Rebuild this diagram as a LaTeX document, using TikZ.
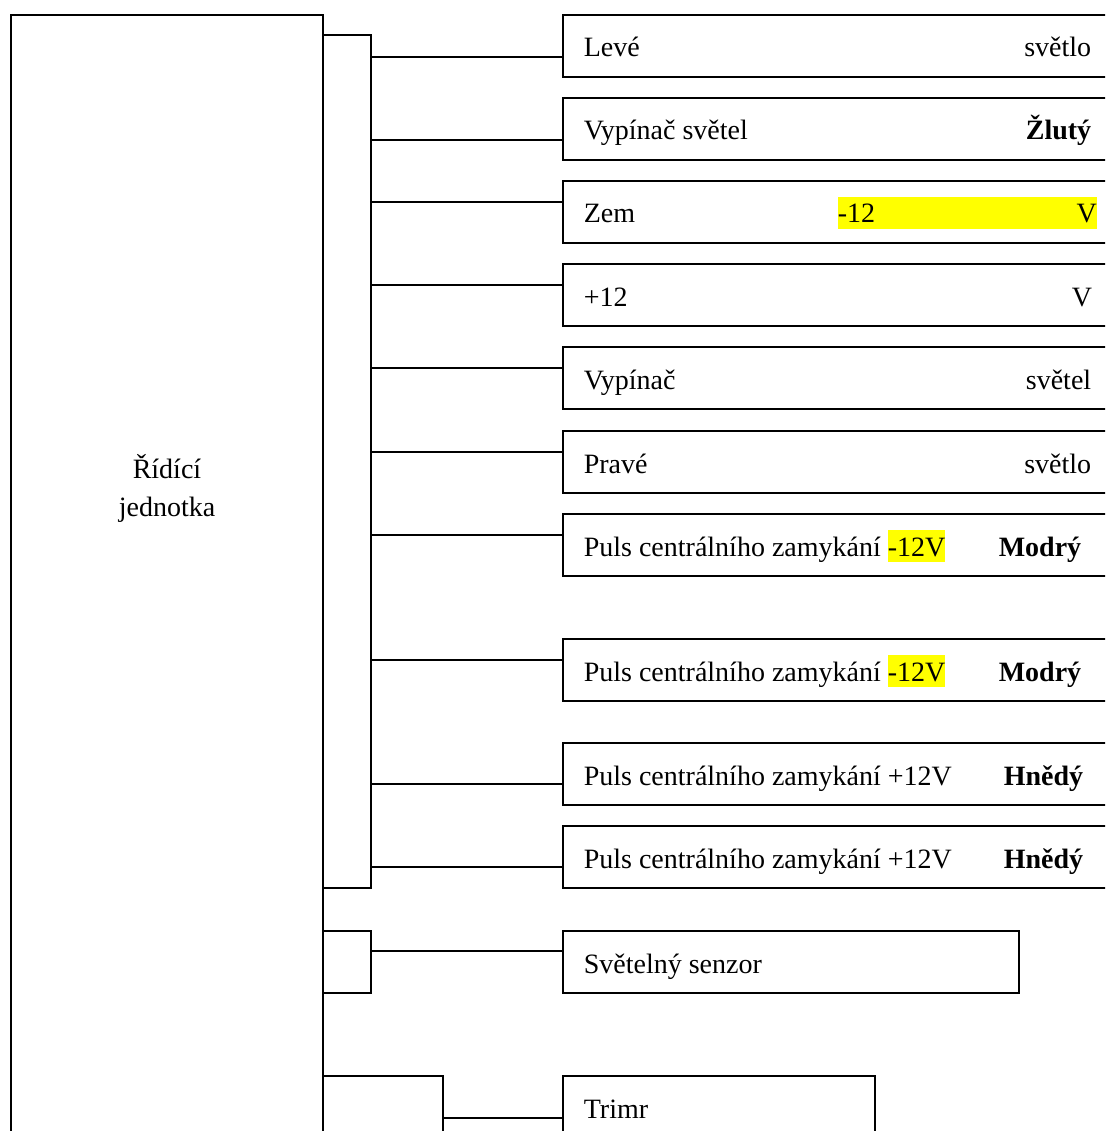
\documentclass[tikz,border=0pt]{standalone}
\usepackage{fontspec}
\setmainfont{Liberation Serif}
\definecolor{zluta}{RGB}{255,255,0}
\newcommand{\zvyraz}[1]{{\setlength{\fboxsep}{0pt}\colorbox{zluta}{\rule[-6pt]{0pt}{32pt}#1}}}

\begin{document}
\begin{tikzpicture}[x=1pt,y=-1pt,line width=1.6pt,font=\fontsize{28pt}{38pt}\selectfont,
   box/.style={draw,inner sep=0,outer sep=0,anchor=north west},
   radek/.style={box,minimum width=580pt,minimum height=62pt},
   vlevo/.style={anchor=base west,inner sep=0},
   vpravo/.style={anchor=base east,inner sep=0}]
   \useasboundingbox (0,0) rectangle (1105,1131);
   \clip (0,0) rectangle (1105,1131);
   % ridici jednotka
   \node[box,minimum width=312pt,minimum height=1150pt] (jednotka) at (11,15) {};
   \node[align=center] (nazev) at (167,488) {Řídící\\jednotka};
   \node[box,minimum width=48pt,minimum height=853pt] (kon1) at (323,35) {};
   \node[box,minimum width=48pt,minimum height=62pt] (kon2) at (323,931) {};
   \node[box,minimum width=120pt,minimum height=100pt] (kon3) at (323,1076) {};
   % vystupy
   \node[radek] (leve) at (563,15) {};
   \node[radek] (vypsv) at (563,98) {};
   \node[radek] (zem) at (563,181) {};
   \node[radek] (plus) at (563,264) {};
   \node[radek] (vyp) at (563,347) {};
   \node[radek] (prave) at (563,431) {};
   \node[radek] (puls1) at (563,514) {};
   \node[radek] (puls2) at (563,639) {};
   \node[radek] (puls3) at (563,743) {};
   \node[radek] (puls4) at (563,826) {};
   \node[box,minimum width=456pt,minimum height=62pt] (senzor) at (563,931) {};
   \node[box,minimum width=312pt,minimum height=100pt] (trimr) at (563,1076) {};
   % texty
   \node[vlevo] (t1) at (583,57) {Levé};
   \node[vpravo] (t1b) at (1092,57) {světlo};
   \node[vlevo] (t2) at (583,140) {Vypínač světel};
   \node[vpravo] (t2b) at (1092,140) {\textbf{Žlutý}};
   \node[vlevo] (t3) at (583,223) {Zem};
   \node[vlevo] (t3b) at (837,223) {\zvyraz{\makebox[259pt]{-12\hfill V}}};
   \node[vlevo] (t4) at (583,306) {+12};
   \node[vpravo] (t4b) at (1093,306) {V};
   \node[vlevo] (t5) at (583,389) {Vypínač};
   \node[vpravo] (t5b) at (1092,389) {světel};
   \node[vlevo] (t6) at (583,473) {Pravé};
   \node[vpravo] (t6b) at (1092,473) {světlo};
   \node[vlevo] (t7) at (583,556) {Puls centrálního zamykání \zvyraz{-12V}};
   \node[vpravo] (t7b) at (1082,556) {\textbf{Modrý}};
   \node[vlevo] (t8) at (583,681) {Puls centrálního zamykání \zvyraz{-12V}};
   \node[vpravo] (t8b) at (1082,681) {\textbf{Modrý}};
   \node[vlevo] (t9) at (583,785) {Puls centrálního zamykání +12V};
   \node[vpravo] (t9b) at (1084,785) {\textbf{Hnědý}};
   \node[vlevo] (t10) at (583,868) {Puls centrálního zamykání +12V};
   \node[vpravo] (t10b) at (1084,868) {\textbf{Hnědý}};
   \node[vlevo] (t11) at (583,973) {Světelný senzor};
   \node[vlevo] (t12) at (583,1118) {Trimr};
   % vodice
   \coordinate (k1) at (371,57);
   \coordinate (k2) at (371,140);
   \coordinate (k3) at (371,202);
   \coordinate (k4) at (371,285);
   \coordinate (k5) at (371,368);
   \coordinate (k6) at (371,452);
   \coordinate (k7) at (371,535);
   \coordinate (k8) at (371,660);
   \coordinate (k9) at (371,784);
   \coordinate (k10) at (371,867);
   \coordinate (k11) at (371,951);
   \coordinate (k12) at (443,1118);
   \draw (k1) -- (k1 -| leve.west);
   \draw (k2) -- (k2 -| vypsv.west);
   \draw (k3) -- (k3 -| zem.west);
   \draw (k4) -- (k4 -| plus.west);
   \draw (k5) -- (k5 -| vyp.west);
   \draw (k6) -- (k6 -| prave.west);
   \draw (k7) -- (k7 -| puls1.west);
   \draw (k8) -- (k8 -| puls2.west);
   \draw (k9) -- (k9 -| puls3.west);
   \draw (k10) -- (k10 -| puls4.west);
   \draw (k11) -- (k11 -| senzor.west);
   \draw (k12) -- (k12 -| trimr.west);
\end{tikzpicture}
\end{document}
